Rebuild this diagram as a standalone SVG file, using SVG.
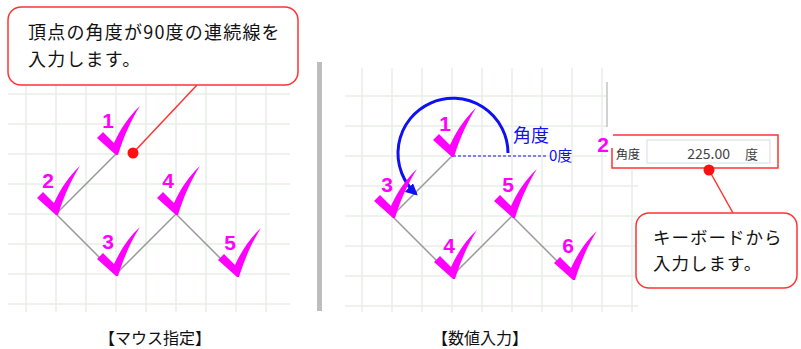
<svg xmlns="http://www.w3.org/2000/svg" width="801" height="349" viewBox="0 0 801 349">
<defs>
<style>
.grid{stroke:#e8eee8;stroke-width:1.5;fill:none}
.edge{stroke:#9a9a9a;stroke-width:1.5;fill:none}
.chk{fill:#ff00ff}
.num{font-family:"Liberation Sans",Arial,sans-serif;font-weight:bold;font-size:21px;fill:#ff00ff;text-anchor:middle}
.jp{font-family:"Noto Sans CJK JP","Noto Sans",sans-serif}
.callout{fill:#fff;stroke:#ff3333;stroke-width:1.5}
.red{stroke:#ff3333;stroke-width:1.5;fill:none}
.blue{fill:#1010f0}
</style>
<path id="check" d="M0,1 L-19,-16 L-13,-22 L-2,-11 C5,-26 13,-38 24,-48 C15,-34 8,-18 2,1 Z"/>
<marker id="arr" viewBox="0 0 10 10" refX="8" refY="5" markerWidth="4" markerHeight="4" orient="auto" markerUnits="strokeWidth">
<path d="M0,0 L10,5 L0,10 Z" fill="#1010f0"/>
</marker>
</defs>
<rect width="801" height="349" fill="#fff"/>

<g id="grid-left" class="grid">
<path d="M8,94H290M8,124H290M8,154H290M8,184H290M8,214H290M8,244H290M8,274H290M8,304H290"/>
<path d="M26,86V312M56,86V312M86,86V312M116,86V312M146,86V312M176,86V312M206,86V312M236,86V312M266,86V312"/>
</g>
<g id="grid-right" class="grid">
<path d="M345,96H638M345,126H638M345,156H638M345,186H638M345,216H638M345,246H638M345,276H638M345,306H638"/>
<path d="M362,68V312M392,68V312M422,68V312M452,68V312M482,68V312M512,68V312M542,68V312M572,68V312M602,68V312M632,68V312"/>
</g>
<rect x="607" y="60" width="194" height="110" fill="#fff"/>
<line x1="607" y1="82" x2="607" y2="127" stroke="#d2d2d2" stroke-width="2"/>

<rect id="separator" x="317" y="62" width="5" height="249" fill="#bdbdbd"/>

<g id="connectors">
<polyline class="edge" points="116,154 56,214 116,274 176,214 236,274"/>
<polyline class="edge" points="452,156 392,216 452,276 512,216 572,276"/>
<line x1="453" y1="156" x2="548" y2="156" stroke="#1010f0" stroke-width="1" stroke-dasharray="3,2"/>
<path d="M508,153 A55,55 0 1 0 416,194" fill="none" stroke="#1010f0" stroke-width="3" marker-end="url(#arr)"/>
<line class="red" x1="197" y1="85" x2="133" y2="153"/>
<line class="red" x1="709" y1="170" x2="733" y2="213"/>
</g>

<g id="left-nodes">
<g id="L1"><use href="#check" class="chk" x="116" y="154"/><text class="num" x="108" y="128">1</text></g>
<g id="L2"><use href="#check" class="chk" x="56" y="214"/><text class="num" x="48" y="188">2</text></g>
<g id="L3"><use href="#check" class="chk" x="116" y="275"/><text class="num" x="108" y="249">3</text></g>
<g id="L4"><use href="#check" class="chk" x="176" y="214"/><text class="num" x="168" y="188">4</text></g>
<g id="L5"><use href="#check" class="chk" x="237" y="276"/><text class="num" x="230" y="250">5</text></g>
</g>

<g id="right-nodes">
<g id="R1"><use href="#check" class="chk" x="452" y="156"/><text class="num" x="445" y="131">1</text></g>
<g id="R3"><use href="#check" class="chk" x="393" y="217"/><text class="num" x="387" y="192">3</text></g>
<g id="R4"><use href="#check" class="chk" x="453" y="278"/><text class="num" x="449" y="253">4</text></g>
<g id="R5"><use href="#check" class="chk" x="513" y="217"/><text class="num" x="508" y="192">5</text></g>
<g id="R6"><use href="#check" class="chk" x="573" y="279"/><text class="num" x="568" y="253">6</text></g>
</g>

<g id="angle-labels">
<text class="jp blue" x="513" y="142" font-size="18">角度</text>
<text class="jp blue" x="549" y="161" font-size="15">0度</text>
</g>

<g id="input-box">
<text class="num" x="603" y="152">2</text>
<path class="red" d="M613,135H778V168H612V148"/>
<text class="jp" x="616" y="159" font-size="12" fill="#333">角度</text>
<rect x="647" y="140" width="123" height="23" fill="#fff" stroke="#d5dce4" stroke-width="1"/>
<text class="jp" x="730" y="159" font-size="14" fill="#444" text-anchor="end">225.00</text>
<text class="jp" x="745" y="159" font-size="13" fill="#444">度</text>
<circle cx="709" cy="170" r="5.5" fill="#ff1010"/>
</g>

<g id="callout-mouse">
<rect class="callout" x="8" y="7" width="290" height="78" rx="13"/>
<text class="jp" x="28" y="39" font-size="18" letter-spacing="1.2" fill="#111">頂点の角度が90度の連続線を</text>
<text class="jp" x="28" y="65.5" font-size="18" letter-spacing="1.2" fill="#111">入力します。</text>
<circle cx="133" cy="153" r="5.5" fill="#ff1010"/>
</g>

<g id="callout-keyboard">
<rect class="callout" x="636" y="213" width="161" height="75" rx="13"/>
<text class="jp" x="653" y="244" font-size="17.5" letter-spacing="1" fill="#111">キーボードから</text>
<text class="jp" x="653" y="269.5" font-size="17.5" letter-spacing="1" fill="#111">入力します。</text>
</g>

<g id="captions">
<text class="jp" x="155" y="344" font-size="16" fill="#111" text-anchor="middle">【マウス指定】</text>
<text class="jp" x="480" y="344" font-size="16" fill="#111" text-anchor="middle">【数値入力】</text>
</g>
</svg>
